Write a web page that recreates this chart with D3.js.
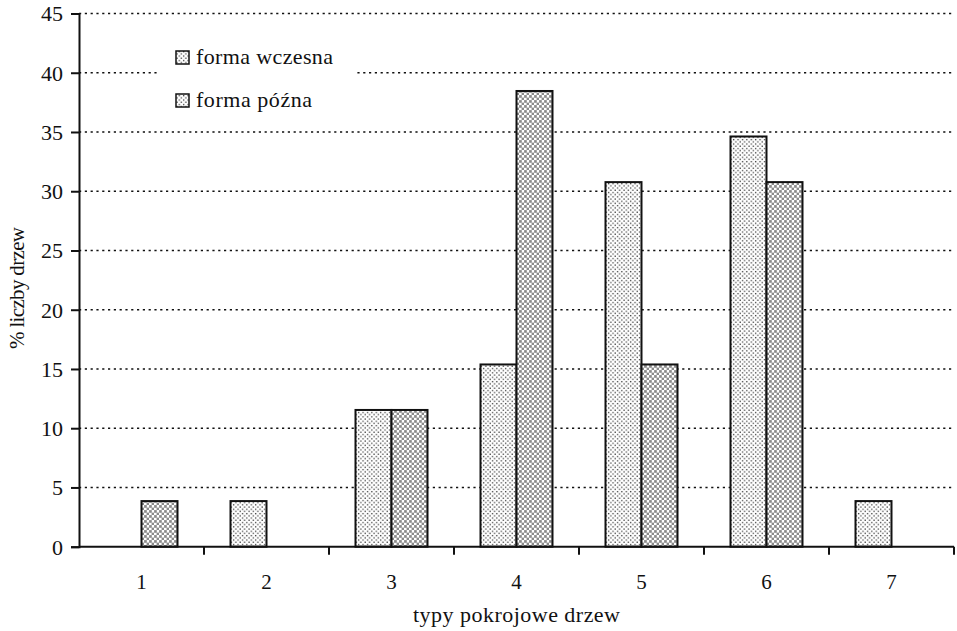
<!DOCTYPE html>
<html lang="pl">
<head>
  <meta charset="UTF-8">
  <title>Typy pokrojowe drzew</title>
  <script src="https://d3js.org/d3.v7.min.js"></script>
  <style>
    body { margin: 0; background: #fff; }
    text { font-family: "Liberation Serif", "Times New Roman", "DejaVu Serif", serif; fill: #111; }
    .grid line { stroke: #111; stroke-width: 1.6; stroke-dasharray: 2.2 3.6; }
    .bar { stroke: #111; stroke-width: 2; }
  </style>
</head>
<body>
<svg id="chart" width="957" height="631"></svg>
<script>
  // data (percent of trees, n = 26)
  const categories = ["1", "2", "3", "4", "5", "6", "7"];
  const seriesNames = ["forma wczesna", "forma późna"];
  const wczesna = [0, 3.85, 11.54, 15.38, 30.77, 34.62, 3.85];
  const pozna   = [3.85, 0, 11.54, 38.46, 15.38, 30.77, 0];
  const yTicks = [0, 5, 10, 15, 20, 25, 30, 35, 40, 45];

  const svg = d3.select("#chart");
  const plotLeft = 79, plotRight = 954, plotTop = 13.5, plotBottom = 546.7;

  const x = d3.scaleBand().domain(categories).range([plotLeft, plotRight]).padding(0);
  const xs = d3.scaleBand().domain([0, 1]).range([0, x.bandwidth()])
               .paddingInner(0).paddingOuter((x.bandwidth() - 72) / 2 / 36);
  const y = d3.scaleLinear().domain([0, 45]).range([plotBottom, plotTop]);

  // fill patterns
  const defs = svg.append("defs");
  const p1 = defs.append("pattern").attr("id", "pat0").attr("patternUnits", "userSpaceOnUse")
                 .attr("width", 4.4).attr("height", 4.4);
  p1.append("rect").attr("width", 4.4).attr("height", 4.4).attr("fill", "#fff");
  p1.append("rect").attr("x", 0.4).attr("y", 0.4).attr("width", 1.3).attr("height", 1.3).attr("fill", "#444");
  p1.append("rect").attr("x", 2.6).attr("y", 2.6).attr("width", 1.3).attr("height", 1.3).attr("fill", "#444");
  const p2 = defs.append("pattern").attr("id", "pat1").attr("patternUnits", "userSpaceOnUse")
                 .attr("width", 5).attr("height", 5);
  p2.append("rect").attr("width", 5).attr("height", 5).attr("fill", "#fff");
  p2.append("rect").attr("x", 0.1).attr("y", 0.1).attr("width", 2.7).attr("height", 2.7).attr("fill", "#8a8a8a");
  p2.append("rect").attr("x", 2.6).attr("y", 2.6).attr("width", 2.7).attr("height", 2.7).attr("fill", "#8a8a8a");

  // gridlines
  svg.append("g").attr("class", "grid")
    .selectAll("line").data(yTicks.filter(d => d > 0)).join("line")
    .attr("x1", plotLeft).attr("x2", plotRight)
    .attr("y1", d => y(d)).attr("y2", d => y(d));

  // bars
  const rows = categories.map((c, i) => ({ c, vals: [wczesna[i], pozna[i]] }));
  const groups = svg.append("g").selectAll("g").data(rows).join("g")
    .attr("transform", d => `translate(${x(d.c)},0)`);
  groups.selectAll("rect")
    .data(d => d.vals.map((v, s) => ({ v, s })).filter(e => e.v > 0))
    .join("rect")
    .attr("class", "bar")
    .attr("x", d => xs(d.s))
    .attr("width", xs.bandwidth())
    .attr("y", d => y(d.v))
    .attr("height", d => y(0) - y(d.v))
    .attr("fill", d => `url(#pat${d.s})`);

  // y axis
  const yAxis = svg.append("g").attr("transform", `translate(${plotLeft},0)`)
    .call(d3.axisLeft(y).tickValues(yTicks).tickSize(8).tickPadding(8));
  yAxis.select(".domain").attr("stroke", "#111").attr("stroke-width", 2);
  yAxis.selectAll(".tick line").attr("stroke", "#111").attr("stroke-width", 2);
  yAxis.selectAll(".tick text").attr("font-size", 22).attr("fill", "#111").attr("dy", "0.34em");

  // x axis: ticks between categories
  const xAxis = svg.append("g").attr("transform", `translate(0,${plotBottom})`);
  xAxis.append("line").attr("x1", plotLeft).attr("x2", plotRight).attr("stroke", "#111").attr("stroke-width", 2);
  xAxis.selectAll("line.tk").data(categories).join("line").attr("class", "tk")
    .attr("x1", d => x(d) + x.bandwidth()).attr("x2", d => x(d) + x.bandwidth())
    .attr("y1", 0).attr("y2", 8).attr("stroke", "#111").attr("stroke-width", 2);
  xAxis.selectAll("text").data(categories).join("text")
    .attr("x", d => x(d) + x.bandwidth() / 2).attr("y", 42)
    .attr("text-anchor", "middle").attr("font-size", 21).text(d => d);

  // axis titles
  svg.append("text").attr("x", (plotLeft + plotRight) / 2).attr("y", 622)
    .attr("text-anchor", "middle").attr("font-size", 22).attr("textLength", 207)
    .text("typy pokrojowe drzew");
  svg.append("text").attr("transform", "translate(24,288) rotate(-90)")
    .attr("text-anchor", "middle").attr("font-size", 21).attr("textLength", 122)
    .text("% liczby drzew");

  // legend
  const legend = svg.append("g");
  legend.append("rect").attr("x", 159).attr("y", 38).attr("width", 195).attr("height", 82).attr("fill", "#fff");
  const lw = [137, 116];
  seriesNames.forEach((name, i) => {
    const yy = 51 + i * 43;
    legend.append("rect").attr("x", 176).attr("y", yy).attr("width", 13).attr("height", 13)
      .attr("fill", "url(#pat0)").attr("stroke", "#111").attr("stroke-width", 1.5);
    legend.append("text").attr("x", 196).attr("y", yy + 13).attr("font-size", 22)
      .attr("textLength", lw[i]).text(name);
  });
</script>
</body>
</html>
